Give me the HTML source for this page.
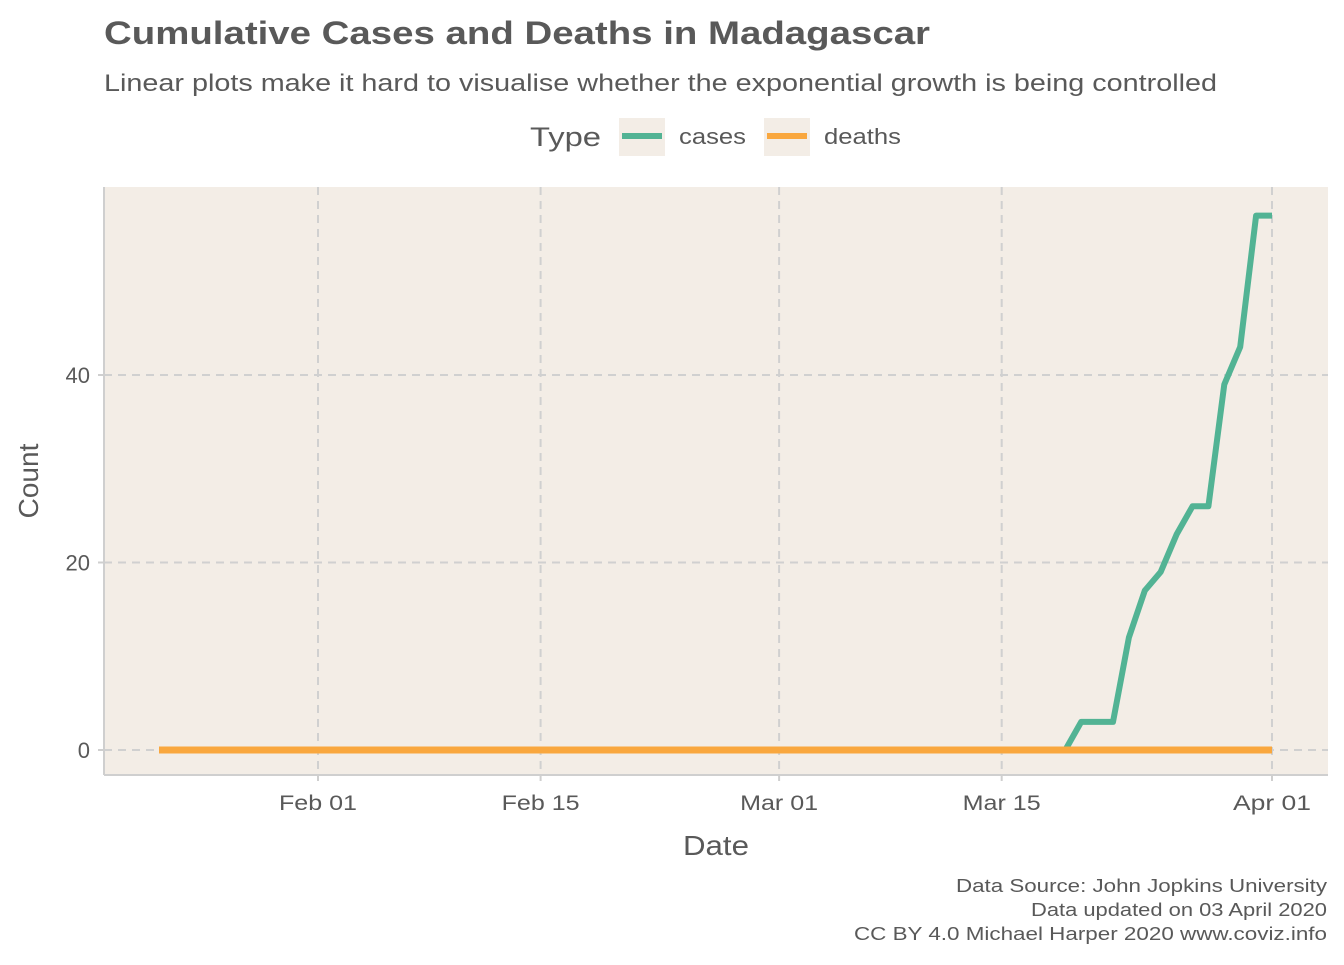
<!DOCTYPE html>
<html><head><meta charset="utf-8"><style>
body{margin:0;background:#fff;font-family:"Liberation Sans",sans-serif;}
svg text{font-family:"Liberation Sans",sans-serif;}
</style></head><body>
<svg width="1344" height="960" xmlns="http://www.w3.org/2000/svg">
<text x="104" y="44" font-size="32" font-weight="bold" fill="#595959" textLength="826" lengthAdjust="spacingAndGlyphs">Cumulative Cases and Deaths in Madagascar</text>
<text x="104" y="91" font-size="24" fill="#595959" textLength="1113" lengthAdjust="spacingAndGlyphs">Linear plots make it hard to visualise whether the exponential growth is being controlled</text>
<g>
<text x="530" y="146" font-size="27" fill="#595959" textLength="71" lengthAdjust="spacingAndGlyphs">Type</text>
<rect x="619" y="118" width="46" height="38" fill="#f3ede6"/>
<line x1="622" y1="136" x2="662" y2="136" stroke="#52b394" stroke-width="6"/>
<text x="679" y="144" font-size="22" fill="#595959" textLength="67" lengthAdjust="spacingAndGlyphs">cases</text>
<rect x="764" y="118" width="46" height="38" fill="#f3ede6"/>
<line x1="767" y1="136" x2="807" y2="136" stroke="#f9a73e" stroke-width="6"/>
<text x="824" y="144" font-size="22" fill="#595959" textLength="77" lengthAdjust="spacingAndGlyphs">deaths</text>
</g>
<rect x="104" y="187" width="1224" height="588" fill="#f3ede6"/>
<g id="grid"></g>
<line x1="104" y1="187" x2="104" y2="775" stroke="#cfcfcf" stroke-width="2"/>
<line x1="104" y1="775" x2="1328" y2="775" stroke="#cfcfcf" stroke-width="2"/>
<g id="series"></g>
<g id="ticks"></g>
<text x="716" y="855" font-size="28" fill="#595959" text-anchor="middle" textLength="66" lengthAdjust="spacingAndGlyphs">Date</text>
<text transform="translate(38,481) rotate(-90)" font-size="28" fill="#595959" text-anchor="middle">Count</text>
<g font-size="18" fill="#595959">
<text x="956" y="892" textLength="371" lengthAdjust="spacingAndGlyphs">Data Source: John Jopkins University</text>
<text x="1031" y="916" textLength="296" lengthAdjust="spacingAndGlyphs">Data updated on 03 April 2020</text>
<text x="854" y="940" textLength="473" lengthAdjust="spacingAndGlyphs">CC BY 4.0 Michael Harper 2020 www.coviz.info</text>
</g>
</svg>
<script>
const startDate = "2020-01-22";
const cases = [0,0,0,0,0,0,0,0,0,0,0,0,0,0,0,0,0,0,0,0,0,0,0,0,0,0,0,0,0,0,0,0,0,0,0,0,0,0,0,0,0,0,0,0,0,0,0,0,0,0,0,0,0,0,0,0,0,0,3,3,3,12,17,19,23,26,26,39,43,57,57];
const deaths = cases.map(()=>0);
const yTicks = [0,20,40];
const xTickDates = ["2020-02-01","2020-02-15","2020-03-01","2020-03-15","2020-04-01"];
const xTickLabels = ["Feb 01","Feb 15","Mar 01","Mar 15","Apr 01"];

const NS="http://www.w3.org/2000/svg";
const day0=Date.parse("2020-02-01"), dayPx=(1272-318)/60;
function dayOf(s){return (Date.parse(s)-day0)/86400000;}
const startOff=dayOf(startDate);
function xDay(d){return 318+d*dayPx;}
function y(v){return 750-v*(375/40);}
function mk(tag,attrs,parent){const e=document.createElementNS(NS,tag);for(const k in attrs)e.setAttribute(k,attrs[k]);parent.appendChild(e);return e;}
const grid=document.getElementById('grid'),ticks=document.getElementById('ticks'),series=document.getElementById('series');
yTicks.forEach(v=>{
  const l=mk('line',{x1:104,x2:1328,y1:y(v),y2:y(v),stroke:'#d0d0d0','stroke-width':2,'stroke-dasharray':'8,6'},grid);
  
  
  const t=mk('text',{x:90,y:y(v)+8,'font-size':22,fill:'#595959','text-anchor':'end'},ticks);
  t.textContent=v;
  
  
  const k=mk('line',{x1:98,x2:104,y1:y(v),y2:y(v),stroke:'#cfcfcf','stroke-width':2},ticks);
  
  
});
xTickDates.forEach((d,i)=>{
  const x=xDay(dayOf(d));
  const l=mk('line',{x1:x,x2:x,y1:187,y2:775,stroke:'#d0d0d0','stroke-width':2,'stroke-dasharray':'8,6'},grid);
  
  
  const t=mk('text',{x:x-39,y:810,'font-size':21,fill:'#595959',textLength:78,lengthAdjust:'spacingAndGlyphs'},ticks);
  t.textContent=xTickLabels[i];
  
  
  const k=mk('line',{x1:x,x2:x,y1:775,y2:781,stroke:'#cfcfcf','stroke-width':2},ticks);
  
  
});
function pts(arr){return arr.map((v,i)=>xDay(startOff+i).toFixed(1)+','+y(v).toFixed(1)).join(' ');}
const pc=mk('polyline',{points:pts(cases),fill:'none',stroke:'#52b394','stroke-width':6,'stroke-linejoin':'round'},series);


const pd=mk('polyline',{points:pts(deaths),fill:'none',stroke:'#f9a73e','stroke-width':7,'stroke-linejoin':'round'},series);


</script>
</body></html>
